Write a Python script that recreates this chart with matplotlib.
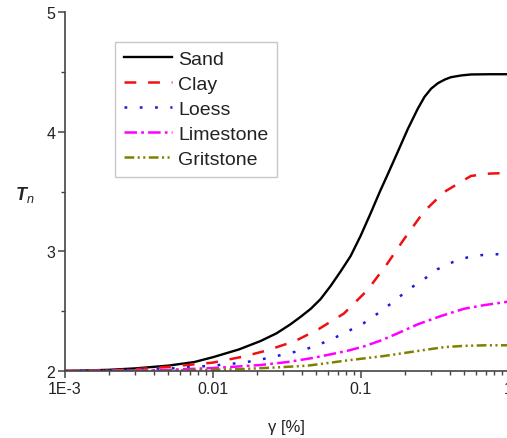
import matplotlib
matplotlib.use("Agg")
import matplotlib.pyplot as plt
from matplotlib.ticker import LogLocator, FixedLocator, FixedFormatter, MultipleLocator, NullFormatter

plt.rcParams['font.family'] = ['Liberation Sans', 'DejaVu Sans']
plt.rcParams['mathtext.fontset'] = 'custom'
plt.rcParams['mathtext.bf'] = 'Liberation Sans:bold:italic'
plt.rcParams['mathtext.it'] = 'Liberation Sans:italic'
plt.rcParams['mathtext.rm'] = 'Liberation Sans'
plt.rcParams['lines.scale_dashes'] = False

# Shear strain gamma [%] and normalised parameter T_n for each soil type
sand_x = [0.001, 0.002, 0.003, 0.005, 0.0075, 0.01, 0.015, 0.021, 0.027, 0.0335, 0.039,
          0.046, 0.0535, 0.0626, 0.073, 0.0855, 0.1, 0.117, 0.135, 0.152, 0.178, 0.208,
          0.243, 0.27, 0.3, 0.333, 0.37, 0.407, 0.48, 0.557, 0.75, 1.0]
sand_y = [2.0, 2.01, 2.022, 2.045, 2.075, 2.115, 2.18, 2.25, 2.315, 2.39, 2.45,
          2.52, 2.60, 2.71, 2.83, 2.96, 3.13, 3.32, 3.50, 3.64, 3.83, 4.02,
          4.19, 4.29, 4.36, 4.405, 4.435, 4.455, 4.47, 4.478, 4.48, 4.48]

clay_x = [0.001, 0.002, 0.003, 0.005, 0.01, 0.016, 0.023, 0.036, 0.052, 0.077, 0.111,
          0.152, 0.196, 0.267, 0.366, 0.557, 0.75, 1.0]
clay_y = [2.0, 2.005, 2.015, 2.035, 2.07, 2.12, 2.17, 2.25, 2.35, 2.48, 2.675,
          2.90, 3.10, 3.33, 3.495, 3.63, 3.65, 3.655]

loess_x = [0.001, 0.003, 0.005, 0.01, 0.016, 0.02, 0.026, 0.033, 0.041, 0.052, 0.066,
           0.083, 0.105, 0.132, 0.167, 0.21, 0.27, 0.33, 0.42, 0.53, 0.67, 1.0]
loess_y = [2.0, 2.01, 2.02, 2.045, 2.07, 2.09, 2.12, 2.15, 2.175, 2.22, 2.275,
           2.335, 2.40, 2.485, 2.58, 2.68, 2.77, 2.85, 2.91, 2.95, 2.97, 2.98]

lime_x = [0.001, 0.003, 0.005, 0.01, 0.013, 0.021, 0.032, 0.048, 0.063, 0.082, 0.105,
          0.137, 0.178, 0.243, 0.35, 0.5, 0.68, 1.0]
lime_y = [2.0, 2.005, 2.01, 2.025, 2.033, 2.05, 2.075, 2.11, 2.14, 2.17, 2.205,
          2.255, 2.315, 2.39, 2.46, 2.52, 2.55, 2.58]

grit_x = [0.001, 0.005, 0.01, 0.015, 0.027, 0.044, 0.063, 0.077, 0.105, 0.143, 0.196,
          0.267, 0.37, 0.5, 0.7, 1.0]
grit_y = [2.0, 2.003, 2.01, 2.015, 2.03, 2.045, 2.07, 2.085, 2.105, 2.125, 2.15,
          2.175, 2.20, 2.21, 2.215, 2.215]

labels = ['Sand', 'Clay', 'Loess', 'Limestone', 'Gritstone']
x_ticks = [0.001, 0.01, 0.1, 1]
x_tick_labels = ['1E-3', '0.01', '0.1', '1']
y_ticks = [2, 3, 4, 5]

fig = plt.figure(figsize=(5.07, 4.39), dpi=100)
ax = fig.add_axes([0.128, 0.1526, 0.875, 0.8178])

ax.plot(sand_x, sand_y, color='black', lw=1.7, label=labels[0])
ax.plot(clay_x, clay_y, color='#ee1111', lw=1.8, dashes=(8.5, 8.5), label=labels[1])
ax.plot(loess_x, loess_y, color='#1a1ae0', lw=1.8, dashes=(2, 9), label=labels[2])
ax.plot(lime_x, lime_y, color='#ff00ff', lw=1.8, dashes=(9, 3, 2, 3), label=labels[3])
ax.plot(grit_x, grit_y, color='#808000', lw=1.8, dashes=(7, 2.5, 1.5, 2.5, 1.5, 2.5),
        label=labels[4])

ax.set_xscale('log')
ax.set_xlim(0.001, 1)
ax.set_ylim(2, 5)

ax.xaxis.set_major_locator(FixedLocator(x_ticks))
ax.xaxis.set_major_formatter(FixedFormatter(x_tick_labels))
ax.xaxis.set_minor_locator(LogLocator(base=10, subs=range(2, 10)))
ax.xaxis.set_minor_formatter(NullFormatter())
ax.yaxis.set_major_locator(FixedLocator(y_ticks))
ax.yaxis.set_minor_locator(MultipleLocator(0.5))

for side in ('top', 'right'):
    ax.spines[side].set_visible(False)
for side in ('left', 'bottom'):
    ax.spines[side].set_color('#444444')
    ax.spines[side].set_linewidth(1.2)

ax.tick_params(which='major', direction='out', length=5, width=1.1, color='#444444',
               labelsize=11.5, labelcolor='#222222', pad=2)
ax.tick_params(which='minor', direction='out', length=3, width=1.0, color='#444444')

ax.set_xlabel('γ [%]', fontsize=12, color='#222222', labelpad=17)
ax.set_ylabel(r'$\mathbf{T}_{\mathit{n}}$', fontsize=13, rotation=0, color='#222222')
ax.yaxis.set_label_coords(-0.09, 0.465)

leg = ax.legend(loc='upper left', bbox_to_anchor=(0.113, 0.917), fontsize=14,
                frameon=True, fancybox=False, edgecolor='#bbbbbb', handlelength=2.5,
                handletextpad=0.3, labelspacing=0.38, borderpad=0.45, borderaxespad=0)
leg.get_frame().set_linewidth(1.0)
for txt in leg.get_texts():
    txt.set_color('#222222')

fig.savefig('out.png', dpi=100)
